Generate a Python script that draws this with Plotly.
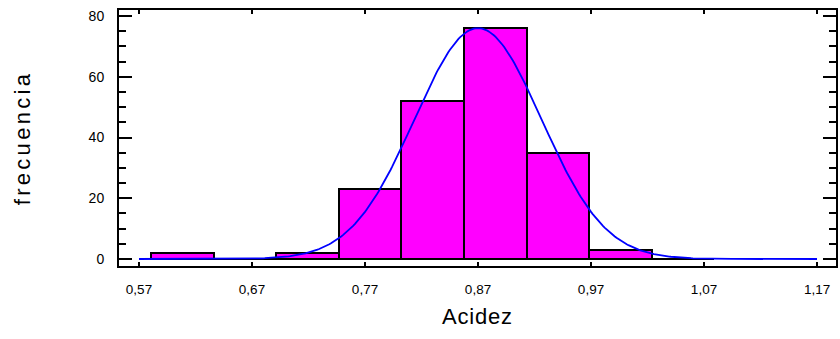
import numpy as np
import plotly.graph_objects as go

# Histogram data
bin_start = 0.5806
bin_width = 0.05539
counts = [2, 0, 2, 23, 52, 76, 35, 3, 0]

# Fitted normal curve parameters
mu = 0.870
sigma = 0.0561
curve_range = [0.57, 1.17]

x_ticks = [0.57, 0.67, 0.77, 0.87, 0.97, 1.07, 1.17]
y_ticks = [0, 20, 40, 60, 80]

centers = [bin_start + bin_width * (i + 0.5) for i in range(len(counts))]
n_total = sum(counts)
xc = np.linspace(curve_range[0], curve_range[1], 400)
yc = n_total * bin_width / (sigma * np.sqrt(2 * np.pi)) * np.exp(-0.5 * ((xc - mu) / sigma) ** 2)

fig = go.Figure()
fig.add_trace(go.Bar(
    x=centers, y=counts, width=bin_width,
    marker=dict(color="#FF00FF", line=dict(color="black", width=2)),
    hoverinfo="skip",
))
fig.add_trace(go.Scatter(
    x=xc, y=yc, mode="lines",
    line=dict(color="#0000FF", width=1.8),
    hoverinfo="skip",
))

font_family = "Liberation Sans, Arial, sans-serif"
fig.update_layout(
    width=840, height=339,
    margin=dict(l=119, r=2, t=10, b=73),
    paper_bgcolor="white", plot_bgcolor="white",
    showlegend=False,
    separators=",.",
    bargap=0,
    font=dict(family=font_family, color="black", size=14),
    annotations=[
        dict(text='<span style="letter-spacing:0.8px">Acidez</span>', xref="paper", yref="paper", x=0.5, y=-0.199,
             xanchor="center", yanchor="middle", showarrow=False,
             font=dict(size=22, family=font_family, color="black")),
        dict(text='<span style="letter-spacing:3.3px">frecuencia</span>', xref="paper", yref="paper", x=-0.1349, y=0.5,
             xanchor="center", yanchor="middle", showarrow=False, textangle=-90,
             font=dict(size=22, family=font_family, color="black")),
    ],
)
fig.update_xaxes(
    range=[0.5523, 1.1868],
    tickvals=x_ticks, tickformat=".2f",
    ticks="inside", ticklen=4, tickwidth=1.5, tickcolor="black",
    showline=True, linecolor="black", linewidth=2, mirror="ticks",
    showgrid=False, zeroline=False,
    ticklabelstandoff=10,
    tickfont=dict(size=13.5),
)
fig.update_yaxes(
    range=[-2.3, 82.0],
    tickvals=y_ticks,
    ticks="inside", ticklen=13, tickwidth=2, tickcolor="black",
    minor=dict(dtick=5, ticks="inside", ticklen=7, tickwidth=2, tickcolor="black"),
    showline=True, linecolor="black", linewidth=2, mirror="ticks",
    showgrid=False, zeroline=False,
    ticklabelstandoff=10,
    tickfont=dict(size=14),
)

fig.write_html("out.html")
